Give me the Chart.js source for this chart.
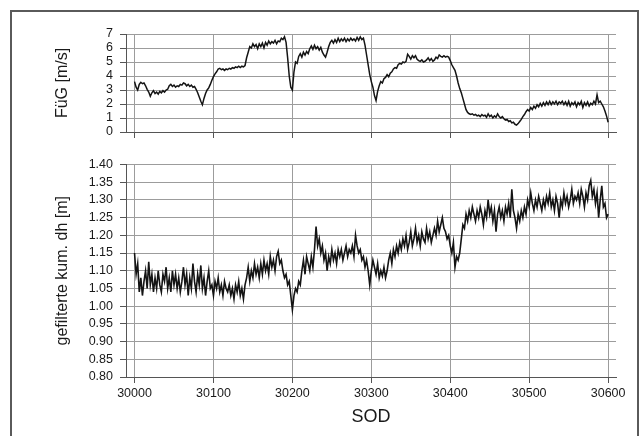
<!DOCTYPE html>
<html>
<head>
<meta charset="utf-8">
<script src="https://cdn.jsdelivr.net/npm/chart.js@4.4.1/dist/chart.umd.min.js"></script>
<style>
  html, body { margin: 0; padding: 0; background: #fff; }
  body { width: 644px; height: 436px; position: relative; overflow: hidden; }
  #frame { position: absolute; left: 10px; top: 10px; width: 629px; height: 440px;
           border: 2px solid #5a5a5a; border-bottom: none; box-sizing: border-box; }
  canvas { position: absolute; left: 0; }
  #top { top: 0; }
  #bottom { top: 150px; }
</style>
</head>
<body>
<div id="frame"></div>
<canvas id="top" width="644" height="150"></canvas>
<canvas id="bottom" width="644" height="286"></canvas>
<script>
// Zeitachse: Sekunden des Tages, alle 2 s ein Wert
const sodStart = 30000;
const sodStep = 2;
const xTicks = [30000, 30100, 30200, 30300, 30400, 30500, 30600];

// FüG [m/s]
const fuegTicks = [0, 1, 2, 3, 4, 5, 6, 7];
const fuegValues = [
  3.6, 3.2, 3.0, 3.4, 3.55, 3.45, 3.5, 3.3, 3.05, 2.85,
  2.55, 2.8, 2.95, 2.75, 2.85, 2.7, 2.9, 2.8, 2.95, 2.85,
  3.0, 3.05, 3.3, 3.4, 3.25, 3.35, 3.2, 3.3, 3.25, 3.4,
  3.35, 3.5, 3.45, 3.3, 3.4, 3.25, 3.35, 3.2, 3.25, 3.05,
  2.8, 2.5, 2.2, 1.95, 2.4, 2.75, 3.0, 3.15, 3.4, 3.7,
  3.95, 4.15, 4.3, 4.5, 4.55, 4.45, 4.5, 4.4, 4.5, 4.45,
  4.55, 4.5, 4.6, 4.55, 4.65, 4.6, 4.7, 4.6, 4.7, 4.65,
  4.75, 5.3, 5.7, 6.1, 6.0, 6.3, 6.1, 6.25, 5.95, 6.3,
  6.1, 6.35, 6.0, 6.4, 6.2, 6.5, 6.3, 6.45, 6.35, 6.55,
  6.3, 6.5, 6.45, 6.7, 6.6, 6.8, 6.4, 5.3, 4.0, 3.2,
  3.0, 4.3, 5.0, 4.9, 5.4, 5.6, 5.35, 5.7, 5.5, 5.75,
  5.6, 5.95, 6.15, 5.9, 6.2, 5.95, 6.1, 5.85, 6.05, 5.7,
  5.5, 5.35, 5.7, 6.1, 6.4, 6.55, 6.35, 6.6, 6.4, 6.7,
  6.45, 6.65, 6.5, 6.7, 6.45, 6.65, 6.5, 6.7, 6.55, 6.65,
  6.5, 6.75, 6.55, 6.8, 6.6, 6.7, 6.2, 5.5, 4.8, 4.1,
  3.6, 3.2, 2.6, 2.25, 2.9, 3.3, 3.6, 3.5, 3.8, 3.9,
  4.1, 3.95, 4.2, 4.3, 4.5, 4.6, 4.55, 4.8, 4.9, 4.85,
  5.0, 4.95, 5.05, 5.55, 5.4, 5.2, 5.45, 5.3, 5.45, 5.2,
  5.1, 5.05, 5.15, 5.0, 5.05, 5.15, 5.3, 5.1, 5.25, 5.05,
  5.15, 5.35, 5.25, 5.5, 5.4, 5.35, 5.45, 5.35, 5.4, 5.35,
  5.1, 4.8, 4.6, 4.4, 4.0, 3.5, 3.1, 2.8, 2.4, 2.0,
  1.6, 1.4, 1.3, 1.25, 1.3, 1.2, 1.25, 1.15, 1.2, 1.1,
  1.25, 1.15, 1.2, 1.05, 1.3, 1.1, 1.2, 1.0, 1.15, 1.05,
  1.3, 1.1, 1.0, 1.1, 0.95, 0.85, 0.9, 0.75, 0.8, 0.65,
  0.7, 0.55, 0.5, 0.6, 0.75, 0.9, 1.1, 1.25, 1.45, 1.6,
  1.5, 1.75, 1.6, 1.85, 1.7, 1.95, 1.8, 2.05, 1.85, 2.1,
  1.9, 2.15, 1.95, 2.2, 1.95, 2.15, 2.0, 2.2, 1.95, 2.15,
  2.05, 2.2, 1.95, 2.15, 1.9, 2.2, 1.85, 2.1, 1.95, 2.15,
  1.8, 2.1, 1.95, 2.2, 1.75, 2.1, 1.9, 2.15, 1.85, 2.05,
  1.95, 2.2, 2.0, 2.65, 2.1, 2.2, 2.0, 1.8, 1.5, 1.15,
  0.7
];

// gefilterte kumulierte dh [m]
const dhTicks = [0.80, 0.85, 0.90, 0.95, 1.00, 1.05, 1.10, 1.15, 1.20, 1.25, 1.30, 1.35, 1.40];
const dhValues = [
  1.15, 1.09, 1.12, 1.04, 1.08, 1.03, 1.07, 1.10, 1.05, 1.125,
  1.06, 1.09, 1.04, 1.08, 1.05, 1.10, 1.06, 1.04, 1.09, 1.07,
  1.11, 1.05, 1.08, 1.04, 1.10, 1.06, 1.09, 1.05, 1.08, 1.04,
  1.07, 1.11, 1.06, 1.09, 1.03, 1.08, 1.05, 1.12, 1.07, 1.04,
  1.09, 1.06, 1.115, 1.05, 1.08, 1.03, 1.07, 1.10, 1.05, 1.06,
  1.03, 1.07, 1.05, 1.08, 1.04, 1.06, 1.03, 1.07, 1.05, 1.04,
  1.06, 1.03, 1.05, 1.02, 1.06, 1.04, 1.07, 1.03, 1.05, 1.02,
  1.06, 1.08, 1.11, 1.07, 1.10, 1.08, 1.12, 1.09, 1.11, 1.08,
  1.12, 1.09, 1.13, 1.10, 1.12, 1.09, 1.14, 1.11, 1.13, 1.10,
  1.14, 1.155, 1.12, 1.13, 1.10, 1.08, 1.09, 1.06, 1.07, 1.03,
  0.99, 1.03, 1.05, 1.04, 1.07, 1.06, 1.10, 1.13, 1.09, 1.14,
  1.12, 1.10, 1.14, 1.11, 1.16, 1.225, 1.17, 1.19, 1.15, 1.17,
  1.13, 1.15, 1.10, 1.14, 1.12, 1.16, 1.13, 1.15, 1.12, 1.16,
  1.14, 1.16, 1.13, 1.15, 1.17, 1.14, 1.16, 1.15, 1.17, 1.14,
  1.20, 1.17, 1.15, 1.16, 1.13, 1.14, 1.11, 1.13, 1.10, 1.06,
  1.10, 1.13, 1.11, 1.09, 1.12, 1.08, 1.10, 1.085, 1.11, 1.08,
  1.10, 1.13, 1.15, 1.12, 1.16, 1.14, 1.17, 1.15, 1.18, 1.16,
  1.19, 1.17, 1.20, 1.16, 1.18, 1.21, 1.17, 1.19, 1.22, 1.18,
  1.20, 1.17, 1.21, 1.19, 1.18, 1.22, 1.19, 1.21, 1.18, 1.20,
  1.22, 1.20, 1.24, 1.21, 1.23, 1.25, 1.22, 1.21, 1.19, 1.20,
  1.17, 1.15, 1.18, 1.11, 1.14, 1.13, 1.15, 1.19, 1.23, 1.22,
  1.26, 1.24, 1.27, 1.25, 1.28, 1.26, 1.24, 1.27, 1.25, 1.28,
  1.26, 1.23, 1.27, 1.25, 1.30, 1.26, 1.28, 1.24, 1.27, 1.21,
  1.26, 1.28, 1.25, 1.27, 1.24, 1.28, 1.26, 1.29, 1.25, 1.33,
  1.27, 1.25, 1.22, 1.26, 1.24, 1.27, 1.25, 1.28, 1.26, 1.30,
  1.28, 1.32, 1.29, 1.27, 1.30, 1.28, 1.31, 1.29, 1.27, 1.30,
  1.28, 1.31, 1.29, 1.32, 1.28, 1.30, 1.27, 1.31, 1.29, 1.25,
  1.30, 1.28, 1.32, 1.29, 1.31, 1.28, 1.30, 1.33, 1.29, 1.31,
  1.30, 1.32, 1.29, 1.33, 1.31, 1.28, 1.32, 1.30, 1.34, 1.355,
  1.31, 1.33, 1.29, 1.32, 1.25, 1.30, 1.34, 1.28, 1.29, 1.25,
  1.26
];

Chart.defaults.font.family = '"Liberation Sans", Arial, sans-serif';
Chart.defaults.color = '#1a1a1a';

function toPoints(values) {
  return values.map((v, i) => ({ x: sodStart + i * sodStep, y: v }));
}

const gridColor = '#9c9c9c';
const axisColor = '#555';

function xScale(showLabels) {
  return {
    type: 'linear',
    min: 29989.2,
    max: 30610,
    afterBuildTicks: s => { s.ticks = xTicks.map(v => ({ value: v })); },
    afterFit: s => { s.height = showLabels ? 51 : 6; },
    grid: { color: gridColor, tickColor: axisColor, tickLength: 6 },
    border: { color: axisColor, width: 1 },
    ticks: { display: showLabels, autoSkip: false, padding: 3, font: { size: 12.5 }, maxRotation: 0,
             callback: v => String(v) },
    title: { display: showLabels, text: 'SOD', font: { size: 18 }, padding: { top: 0, bottom: 0 } }
  };
}

function yScale(tickList, title, fmt) {
  return {
    min: tickList[0],
    max: tickList[tickList.length - 1],
    afterBuildTicks: s => { s.ticks = tickList.map(v => ({ value: v })); },
    afterFit: s => { s.width = 126; },
    grid: { color: gridColor, tickColor: axisColor, tickLength: 6 },
    border: { color: axisColor, width: 1 },
    ticks: { autoSkip: false, padding: 7, font: { size: 12.5 }, callback: fmt },
    title: { display: true, text: title, font: { size: 16 }, padding: { top: 53, bottom: 0 } }
  };
}

function lineSet(values, width) {
  return {
    data: toPoints(values),
    borderColor: '#141414',
    borderWidth: width,
    pointRadius: 0,
    tension: 0
  };
}

new Chart(document.getElementById('top'), {
  type: 'line',
  data: { datasets: [lineSet(fuegValues, 1.5)] },
  options: {
    responsive: false,
    animation: false,
    layout: { padding: { left: 0, right: 28, top: 34, bottom: 12 } },
    plugins: { legend: { display: false }, tooltip: { enabled: false } },
    scales: {
      x: xScale(false),
      y: yScale(fuegTicks, 'FüG [m/s]', v => String(v))
    }
  }
});

new Chart(document.getElementById('bottom'), {
  type: 'line',
  data: { datasets: [lineSet(dhValues, 1.6)] },
  options: {
    responsive: false,
    animation: false,
    layout: { padding: { left: 0, right: 28, top: 14, bottom: 8 } },
    plugins: { legend: { display: false }, tooltip: { enabled: false } },
    scales: {
      x: xScale(true),
      y: yScale(dhTicks, 'gefilterte kum. dh [m]', v => v.toFixed(2))
    }
  }
});
</script>
</body>
</html>
